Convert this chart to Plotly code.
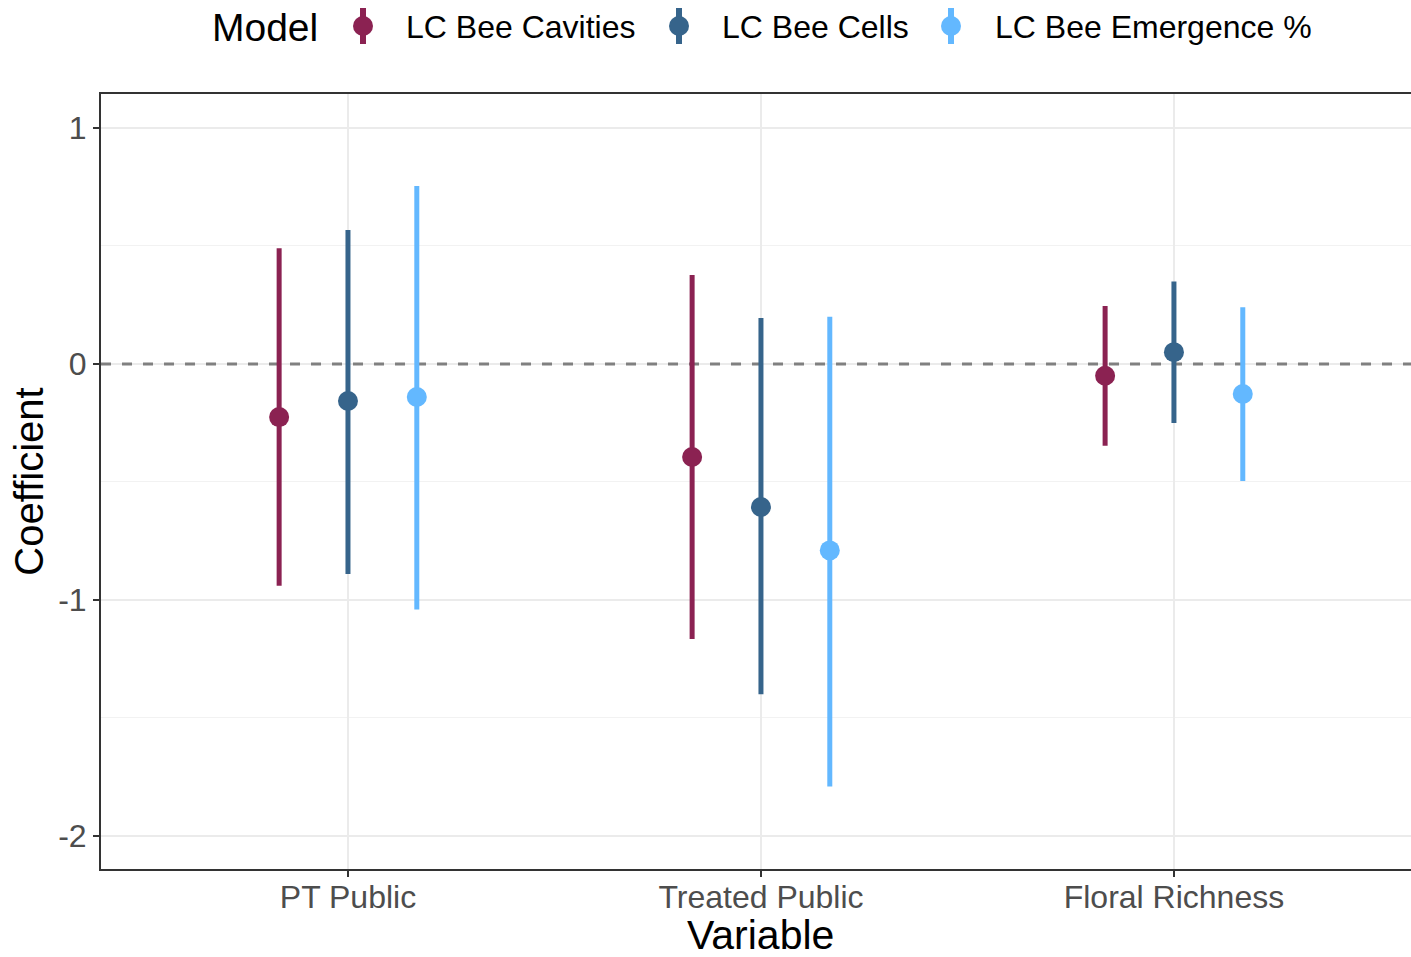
import plotly.graph_objects as go

variables = ["PT Public", "Treated Public", "Floral Richness"]
models = ["LC Bee Cavities", "LC Bee Cells", "LC Bee Emergence %"]
colors = ["#8B2252", "#36648B", "#63B8FF"]

estimate = {
    "LC Bee Cavities":    [-0.225, -0.394, -0.05],
    "LC Bee Cells":       [-0.157, -0.606, 0.05],
    "LC Bee Emergence %": [-0.14, -0.79, -0.127],
}
upper = {
    "LC Bee Cavities":    [0.49, 0.377, 0.246],
    "LC Bee Cells":       [0.568, 0.195, 0.35],
    "LC Bee Emergence %": [0.754, 0.20, 0.24],
}
lower = {
    "LC Bee Cavities":    [-0.94, -1.165, -0.347],
    "LC Bee Cells":       [-0.89, -1.40, -0.25],
    "LC Bee Emergence %": [-1.04, -1.79, -0.496],
}

X_RANGE = [0.402, 3.574]
Y_RANGE = [-2.14, 1.144]
W, H = 1411, 957
ML, MR, MT, MB = 101, 0, 94, 88

dodge = 1.0 / 6.0
fig = go.Figure()

# reference line at zero (under the estimates, above the grid)
fig.add_trace(go.Scatter(
    x=X_RANGE, y=[0, 0], mode="lines", showlegend=False, hoverinfo="skip",
    line=dict(color="#808080", width=3, dash="10px,11px"),
))

for k, (m, c) in enumerate(zip(models, colors)):
    xs = [i + 1 + (k - 1) * dodge for i in range(len(variables))]
    ys = estimate[m]
    fig.add_trace(go.Scatter(
        x=xs, y=ys, mode="markers", name=m, showlegend=False,
        marker=dict(color=c, size=20, line=dict(width=0)),
        error_y=dict(type="data", symmetric=False,
                     array=[u - y for u, y in zip(upper[m], ys)],
                     arrayminus=[y - l for l, y in zip(lower[m], ys)],
                     color=c, thickness=5, width=0),
    ))

# manual legend (ggplot-style, top)
pw, ph = W - ML - MR, H - MT - MB
def px(xp):
    return (xp - ML) / pw
def py(yp):
    return (H - MB - yp) / ph

legend_y = 27
annotations = [dict(text="Model", x=px(210), y=py(legend_y), xref="paper", yref="paper",
                    xanchor="left", yanchor="middle", showarrow=False,
                    font=dict(size=39, color="black"))]
shapes = []
glyph_x = [363, 679, 951]
text_x = [404, 720, 993]
for m, c, gx, tx in zip(models, colors, glyph_x, text_x):
    shapes.append(dict(type="line", xref="paper", yref="paper",
                       x0=px(gx), x1=px(gx), ysizemode="pixel", yanchor=py(legend_y - 1),
                       y0=-18, y1=18, line=dict(color=c, width=6)))
    shapes.append(dict(type="circle", xref="paper", yref="paper",
                       xsizemode="pixel", ysizemode="pixel",
                       xanchor=px(gx), yanchor=py(legend_y - 1),
                       x0=-10, x1=10, y0=-10, y1=10,
                       fillcolor=c, line=dict(width=0)))
    annotations.append(dict(text=m, x=px(tx), y=py(legend_y), xref="paper", yref="paper",
                            xanchor="left", yanchor="middle", showarrow=False,
                            font=dict(size=32, color="black")))

# x-axis title centred on the full (cropped) ggplot panel
annotations.append(dict(text="Variable", x=px(761), y=py(935), xref="paper", yref="paper",
                        xanchor="center", yanchor="middle", showarrow=False,
                        font=dict(size=41, color="black")))

fig.update_layout(
    width=W, height=H,
    paper_bgcolor="white", plot_bgcolor="white",
    margin=dict(l=ML, r=MR, t=MT, b=MB),
    font=dict(family="Liberation Sans, Arial, sans-serif", color="black"),
    showlegend=False,
    annotations=annotations,
    shapes=shapes,
)
fig.update_xaxes(
    range=X_RANGE, tickmode="array", tickvals=[1, 2, 3], ticktext=variables,
    showgrid=True, gridcolor="#EBEBEB", gridwidth=2, zeroline=False,
    showline=True, linecolor="#333333", linewidth=2, mirror=True,
    ticks="outside", ticklen=6, tickwidth=2, tickcolor="#333333",
    tickfont=dict(size=32, color="#4D4D4D"), ticklabelstandoff=-7,
)
fig.update_yaxes(
    range=Y_RANGE, tickmode="array", tickvals=[-2, -1, 0, 1], ticktext=["-2", "-1", "0", "1"],
    showgrid=True, gridcolor="#EBEBEB", gridwidth=2, zeroline=False,
    minor=dict(tickvals=[-1.5, -0.5, 0.5], showgrid=True, gridcolor="#F2F2F2", gridwidth=1, ticks=""),
    showline=True, linecolor="#333333", linewidth=2, mirror=False,
    ticks="outside", ticklen=6, tickwidth=2, tickcolor="#333333",
    tickfont=dict(size=32, color="#4D4D4D"),
    title=dict(text="Coefficient", font=dict(size=40, color="black"), standoff=2),
)

fig.write_html("out.html")
